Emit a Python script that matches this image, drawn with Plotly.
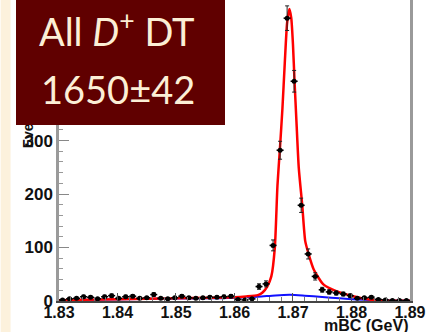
import plotly.graph_objects as go
import numpy as np

# --- data ---
BIN_LO = 1.83
BIN_WIDTH = 0.0012
counts = [2, 4, 5, 8, 7, 4, 8, 10, 5, 8,
          9, 5, 6, 12, 5, 4, 6, 9, 6, 5,
          6, 7, 7, 8, 9, 3, 2, 4, 27, 32,
          104, 282, 529, 411, 179, 88, 46, 21, 17, 15,
          13, 10, 5, 6, 7, 3, 2, 1, 1, 1]
bin_centers = [round(BIN_LO + BIN_WIDTH * (i + 0.5), 5) for i in range(len(counts))]
count_errors = [float(np.sqrt(c)) for c in counts]

# total fit (signal + background), knots
fit_x = [1.830, 1.840, 1.850, 1.856, 1.860, 1.862, 1.8640, 1.8648, 1.8656, 1.8663,
         1.8669, 1.86735, 1.8678, 1.8682, 1.8686, 1.8690, 1.86938, 1.8697, 1.8700,
         1.87027, 1.8706, 1.8710, 1.87158, 1.8721, 1.8727, 1.87355, 1.8752,
         1.8775, 1.8803, 1.8831, 1.8854, 1.8900]
fit_y = [1.5, 3.5, 5, 6, 7, 8.5, 11, 16, 27, 46,
         100, 216, 290, 360, 445, 520, 546, 530, 480,
         411, 335, 248, 180, 112, 87, 59, 31,
         18, 9, 3, 1, 0.3]

# background component, knots
bkg_x = [1.830, 1.850, 1.856, 1.860, 1.864, 1.867, 1.8695, 1.872, 1.875, 1.878, 1.881, 1.884, 1.890]
bkg_y = [1.5, 4.5, 5, 6, 8, 10.5, 11.5, 10, 7.5, 5, 3, 1.5, 0.5]

box_line1 = "All <i>D</i><sup>+</sup> DT"
box_line2 = "1650±42"
y_title = "Events"
x_title = "mBC (GeV)"

W, H = 426, 332
L, R, T, B = 59, 12, 0, 31
pw, ph = W - L - R, H - T - B

def px_x(p):
    return (p - L) / pw

def px_y(p):
    return 1 - (p - T) / ph

fig = go.Figure()
fig.add_trace(go.Scatter(x=bkg_x, y=bkg_y, mode="lines",
                         line=dict(color="#1010ff", width=2, shape="spline", smoothing=0.8),
                         hoverinfo="skip"))
fig.add_trace(go.Scatter(x=fit_x, y=fit_y, mode="lines",
                         line=dict(color="#ff0000", width=2.5, shape="spline", smoothing=0.6),
                         hoverinfo="skip"))
fig.add_trace(go.Scatter(x=bin_centers, y=counts, mode="markers",
                         marker=dict(color="black", size=5),
                         error_y=dict(type="data", array=count_errors, color="#222", thickness=1, width=2),
                         error_x=dict(type="constant", value=BIN_WIDTH / 2, color="black", thickness=1.5, width=0)))

xtickfont = dict(family="Liberation Sans", size=16, color="#111", weight="bold")
ytickfont = dict(family="Liberation Sans", size=17, color="#111", weight="bold")
fig.update_layout(
    width=W, height=H,
    margin=dict(l=L, r=R, t=T, b=B),
    paper_bgcolor="white", plot_bgcolor="white",
    showlegend=False,
    xaxis=dict(range=[1.83, 1.89001], dtick=0.01, tick0=1.83, showgrid=False, zeroline=False,
               ticks="inside", ticklen=8, tickcolor="#555", tickwidth=1,
               minor=dict(dtick=0.002, ticks="inside", ticklen=4, tickcolor="#777"),
               showline=True, linecolor="#444", linewidth=1.5, mirror=False,
               tickfont=xtickfont, tickformat=".2f", ticklabelstandoff=-4,
               ticklabeloverflow="allow"),
    yaxis=dict(range=[0, 563], dtick=100, tick0=0, showgrid=False, zeroline=False,
               ticks="inside", ticklen=10, tickcolor="#888", tickwidth=1,
               minor=dict(dtick=20, ticks="inside", ticklen=4, tickcolor="#999"),
               showline=True, linecolor="#9a9a9a", linewidth=2.5, mirror=True,
               tickfont=ytickfont, ticklabelstandoff=0),
    shapes=[dict(type="rect", xref="paper", yref="paper",
                 x0=px_x(0), x1=px_x(10), y0=px_y(H), y1=px_y(0),
                 fillcolor="#fcf1dc", line=dict(width=0), layer="below")],
    annotations=[
        dict(text=y_title, xref="paper", yref="paper", x=px_x(28), y=px_y(150),
             xanchor="center", yanchor="bottom", textangle=-90, showarrow=False,
             font=dict(family="Liberation Sans", size=14, color="#111", weight="bold")),
        dict(text=x_title, xref="paper", yref="paper", x=px_x(414), y=px_y(325),
             xanchor="right", yanchor="middle", showarrow=False,
             font=dict(family="Liberation Sans", size=16, color="#111", weight="bold")),
        dict(text="&nbsp;", xref="paper", yref="paper", x=px_x(16), y=px_y(0),
             xanchor="left", yanchor="top", showarrow=False, width=209, height=125,
             bgcolor="#600000", borderpad=0, borderwidth=0),
        dict(text=box_line1, xref="paper", yref="paper", x=px_x(117), y=px_y(29),
             xanchor="center", yanchor="middle", showarrow=False,
             font=dict(family="Lato", size=38, color="#fcefd6")),
        dict(text=box_line2, xref="paper", yref="paper", x=px_x(119), y=px_y(89),
             xanchor="center", yanchor="middle", showarrow=False,
             font=dict(family="Lato", size=38, color="#fcefd6")),
    ],
)
fig.write_html("out.html", config={"displayModeBar": False},
               post_script="document.body.style.margin='0';document.body.style.overflow='hidden';")
